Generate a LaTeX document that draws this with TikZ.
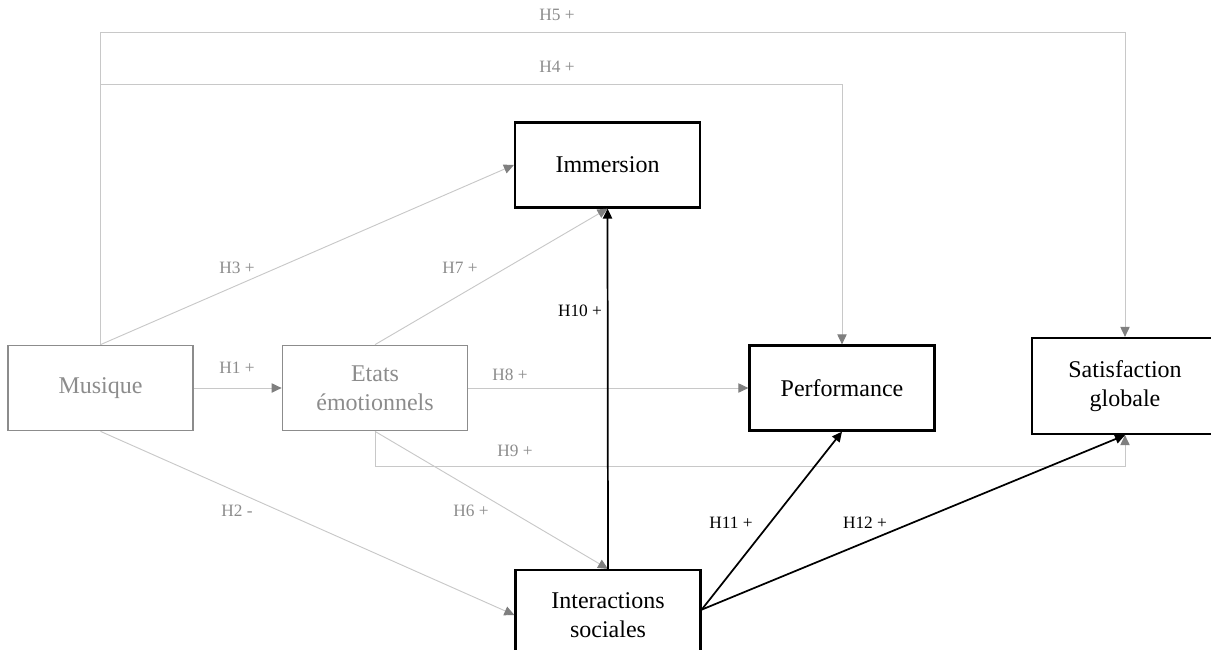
\documentclass[tikz,border=0pt]{standalone}
\usepackage{fontspec}
\setmainfont{Liberation Serif}
\usetikzlibrary{arrows.meta,calc}
\definecolor{boxgray}{HTML}{8C8C8C}
\definecolor{linegray}{HTML}{C8C8C8}
\definecolor{tipgray}{HTML}{7F7F7F}
\definecolor{labgray}{HTML}{8C8C8C}
\begin{document}
\begin{tikzpicture}[x=0.75pt,y=-0.75pt,
  basebox/.style={rectangle, inner sep=0pt, align=center,
    minimum width=138.75pt, minimum height=63.75pt,
    font=\fontsize{18}{21.6}\selectfont},
  gbox/.style={basebox, draw=boxgray, text=labgray, line width=1.3pt},
  bbox/.style={basebox, draw=black, text=black, line width=1.7pt},
  garrow/.style={draw=linegray, line width=0.7pt,
    -{Triangle[length=7.5pt,width=7pt,color=tipgray]}},
  barrow/.style={draw=black, line width=1.3pt,
    -{Triangle[length=7.5pt,width=7pt]}},
  glab/.style={text=labgray, font=\fontsize{13}{15}\selectfont, inner sep=0pt},
  blab/.style={text=black, font=\fontsize{13}{15}\selectfont, inner sep=0pt}]
\useasboundingbox (0,0) rectangle (1211,650);
\clip (0,0) rectangle (1211,650);

% constructs
\node[gbox] (mus)  at (100.5,388) {Musique};
\node[gbox] (etat) at (375,388) {Etats\\émotionnels};
\node[bbox] (imm)  at (607.5,165) {Immersion};
\node[bbox] (perf) at (842,388) {Performance};
\node[bbox, minimum width=139.5pt, minimum height=72pt] (sat) at (1125,386) {Satisfaction\\globale};
\node[bbox, minimum height=67.5pt] (int) at (608,615) {Interactions\\sociales};

% hypotheses from music and emotional states
\draw[garrow] (mus.east) -- (etat.west);
\draw[garrow] (mus.south) -- (int.west);
\draw[garrow] (mus.north) -- (imm.west);
\draw[garrow] (mus.north) -- ++(0,-260) -| (perf.north);
\draw[garrow] (mus.north) -- ++(0,-312) -| (sat.north);
\draw[garrow] (etat.south) -- (int.north);
\draw[garrow] (etat.north) -- (imm.south);
\draw[garrow] (etat.east) -- (perf.west);
\draw[garrow] (etat.south) -- ++(0,35) -| (sat.south);

% hypotheses from social interactions
\draw[barrow] (int.north) -- (imm.south);
\draw[barrow] ([yshift=4pt]int.east) -- (perf.south);
\draw[barrow] ([yshift=4pt]int.east) -- (sat.south);

% labels
\node[glab] (l5)  at (557,15)  {H5 +};
\node[glab] (l4)  at (557,67)  {H4 +};
\node[glab] (l3)  at (237,268) {H3 +};
\node[glab] (l1)  at (237,368) {H1 +};
\node[glab] (l2)  at (237,511) {H2 -};
\node[glab] (l7)  at (460,268) {H7 +};
\node[glab] (l8)  at (510,375) {H8 +};
\node[glab] (l9)  at (515,451) {H9 +};
\node[glab] (l6)  at (471,511) {H6 +};
\node[blab] (l10) at (580,311) {H10 +};
\node[blab] (l11) at (731,523) {H11 +};
\node[blab] (l12) at (865,523) {H12 +};
\end{tikzpicture}
\end{document}
